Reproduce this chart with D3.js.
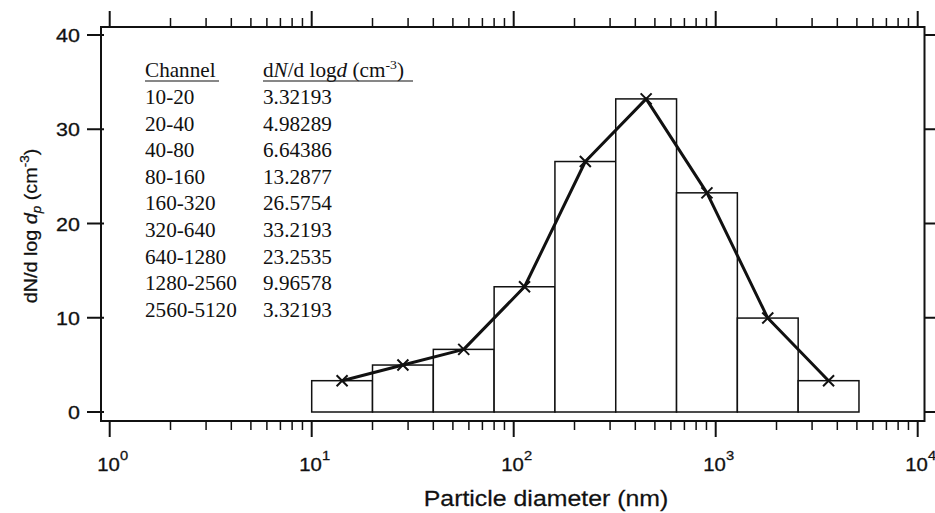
<!DOCTYPE html>
<html>
<head>
<meta charset="utf-8">
<script src="https://cdn.jsdelivr.net/npm/d3@7"></script>
<style>
  body { margin: 0; background: #fff; }
  svg { display: block; }
</style>
</head>
<body>
<svg width="935" height="513"></svg>
<script>
// data
const channels = ["10-20", "20-40", "40-80", "80-160", "160-320", "320-640", "640-1280", "1280-2560", "2560-5120"];
const binLo = [10, 20, 40, 80, 160, 320, 640, 1280, 2560];
const binHi = [20, 40, 80, 160, 320, 640, 1280, 2560, 5120];
const dNdlogd = [3.32193, 4.98289, 6.64386, 13.2877, 26.5754, 33.2193, 23.2535, 9.96578, 3.32193];
const yTicks = [0, 10, 20, 30, 40];
const xDecades = [0, 1, 2, 3, 4];

const svg = d3.select("svg");

// plot frame
const frame = { left: 101, right: 924.5, top: 27, bottom: 421 };

const x = d3.scaleLog().domain([1, 1e4]).range([109.7, 917.7]);
const y = d3.scaleLinear().domain([0, 40]).range([412, 35]);

const ink = "#111";
const sans = "Liberation Sans, Arial, sans-serif";
const serif = "Liberation Serif, Times New Roman, serif";
const stretch = 1.13; // the text in the picture is a bit wide

// place a text at (tx,ty), stretched sideways
function label(g, tx, ty, rot) {
  return g.append("text")
    .attr("transform", `translate(${tx},${ty})` + (rot ? ` rotate(${rot})` : "") + ` scale(${stretch},1)`);
}

// bars
svg.append("g").selectAll("rect")
  .data(dNdlogd)
  .enter().append("rect")
  .attr("x", (d, i) => x(binLo[i]))
  .attr("width", (d, i) => x(binHi[i]) - x(binLo[i]))
  .attr("y", d => y(d))
  .attr("height", d => y(0) - y(d))
  .attr("fill", "#fff")
  .attr("stroke", ink)
  .attr("stroke-width", 1.5);

// line through geometric centres
const pts = dNdlogd.map((d, i) => [Math.sqrt(binLo[i] * binHi[i]), d]);
svg.append("path")
  .datum(pts)
  .attr("fill", "none")
  .attr("stroke", ink)
  .attr("stroke-width", 3)
  .attr("stroke-linejoin", "round")
  .attr("d", d3.line().x(d => x(d[0])).y(d => y(d[1])));

// x markers
const m = 5.5;
svg.append("g").selectAll("path")
  .data(pts)
  .enter().append("path")
  .attr("d", d => {
    const cx = x(d[0]), cy = y(d[1]);
    return `M${cx - m},${cy - m}L${cx + m},${cy + m}M${cx - m},${cy + m}L${cx + m},${cy - m}`;
  })
  .attr("stroke", ink)
  .attr("stroke-width", 2);

// frame
svg.append("rect")
  .attr("x", frame.left).attr("y", frame.top)
  .attr("width", frame.right - frame.left)
  .attr("height", frame.bottom - frame.top)
  .attr("fill", "none")
  .attr("stroke", ink)
  .attr("stroke-width", 2);

// log ticks, bottom and top, pointing out
const minor = [];
for (let k = 0; k < 4; k++) for (let j = 2; j <= 9; j++) minor.push(j * Math.pow(10, k));
const major = xDecades.map(k => Math.pow(10, k));

function xTicks(yy, dir) {
  const g = svg.append("g").attr("stroke", ink).attr("stroke-width", 1.5);
  g.selectAll(".mn").data(minor).enter().append("line")
    .attr("x1", d => x(d)).attr("x2", d => x(d))
    .attr("y1", yy).attr("y2", yy + dir * 9);
  g.selectAll(".mj").data(major).enter().append("line")
    .attr("x1", d => x(d)).attr("x2", d => x(d))
    .attr("y1", yy).attr("y2", yy + dir * 16)
    .attr("stroke-width", 2);
}
xTicks(frame.bottom, 1);
xTicks(frame.top, -1);

// x labels 10^k
const xl = svg.append("g").attr("font-family", sans).attr("fill", ink)
  .attr("stroke", ink).attr("stroke-width", 0.3);
xDecades.forEach(k => {
  const t = label(xl, x(Math.pow(10, k)) + 3, 471)
    .attr("text-anchor", "middle")
    .attr("font-size", 18);
  t.append("tspan").text("10");
  t.append("tspan").attr("dy", -11).attr("font-size", 13).text(k);
});

// y ticks left (crossing) and right (out)
const yg = svg.append("g").attr("stroke", ink).attr("stroke-width", 2);
yg.selectAll(".l").data(yTicks).enter().append("line")
  .attr("x1", 87).attr("x2", frame.left + 3)
  .attr("y1", d => y(d)).attr("y2", d => y(d));
yg.selectAll(".r").data(yTicks).enter().append("line")
  .attr("x1", frame.right).attr("x2", 936)
  .attr("y1", d => y(d)).attr("y2", d => y(d));

const yl = svg.append("g").attr("font-family", sans).attr("fill", ink)
  .attr("stroke", ink).attr("stroke-width", 0.3);
yTicks.forEach(v => {
  label(yl, 80, y(v) + 7)
    .attr("text-anchor", "end")
    .attr("font-size", 19)
    .text(v);
});

// axis titles
const tg = svg.append("g").attr("font-family", sans).attr("fill", ink)
  .attr("stroke", ink).attr("stroke-width", 0.25);
label(tg, 546, 506)
  .attr("text-anchor", "middle")
  .attr("font-size", 22)
  .text("Particle diameter (nm)");

const yt = label(tg, 37, 226, -90)
  .attr("text-anchor", "middle")
  .attr("font-size", 17.5);
yt.append("tspan").text("dN/d log ");
yt.append("tspan").attr("font-style", "italic").text("d");
yt.append("tspan").attr("font-style", "italic").attr("font-size", 12).attr("dy", 4).text("p");
yt.append("tspan").attr("dy", -4).text(" (cm");
yt.append("tspan").attr("font-size", 12).attr("dy", -8).text("-3");
yt.append("tspan").attr("dy", 8).text(")");

// table inset
const tb = svg.append("g")
  .attr("font-family", serif)
  .attr("font-size", 20)
  .attr("fill", ink);
const col1 = 145, col2 = 263, rowH = 26.6, row0 = 104;
const tStretch = 1.06;
function cell(tx, ty) {
  return tb.append("text").attr("transform", `translate(${tx},${ty}) scale(${tStretch},1)`);
}

cell(col1, 77).text("Channel");
const h2 = cell(col2, 77);
h2.append("tspan").text("d");
h2.append("tspan").attr("font-style", "italic").text("N");
h2.append("tspan").text("/d log");
h2.append("tspan").attr("font-style", "italic").text("d");
h2.append("tspan").text(" (cm");
h2.append("tspan").attr("font-size", 13).attr("dy", -8).text("-3");
h2.append("tspan").attr("dy", 8).text(")");
tb.append("line").attr("x1", col1).attr("x2", 219).attr("y1", 81).attr("y2", 81)
  .attr("stroke", ink).attr("stroke-width", 1.2);
tb.append("line").attr("x1", col2).attr("x2", 413).attr("y1", 81).attr("y2", 81)
  .attr("stroke", ink).attr("stroke-width", 1.2);

channels.forEach((c, i) => {
  cell(col1, row0 + i * rowH).text(c);
  cell(col2, row0 + i * rowH).text(dNdlogd[i]);
});
</script>
</body>
</html>
